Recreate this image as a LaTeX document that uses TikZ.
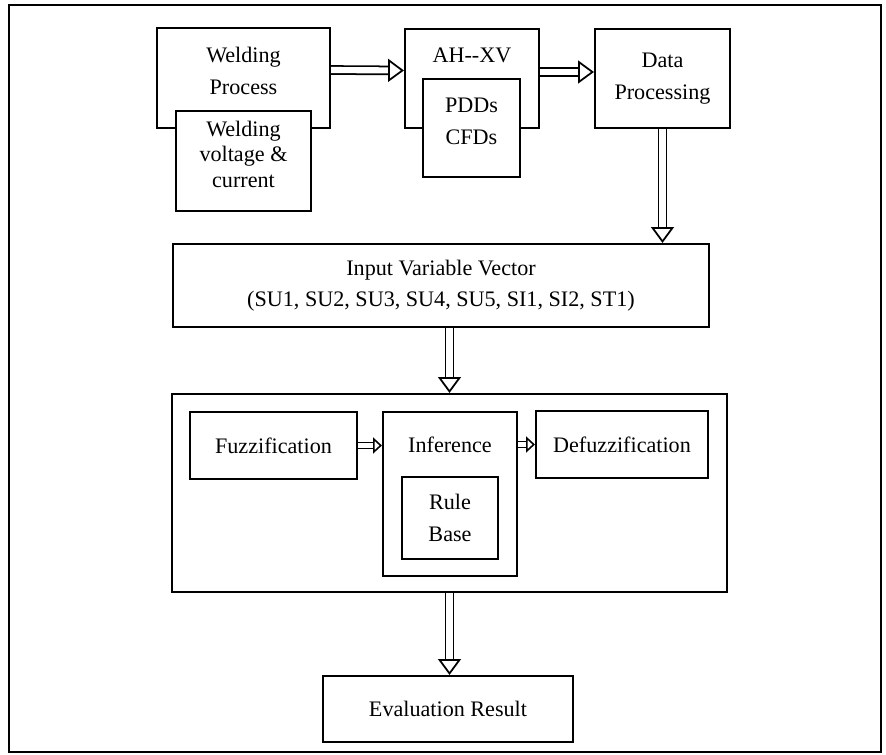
\documentclass[tikz,border=0pt]{standalone}
\usepackage{fontspec}
\setmainfont{Liberation Serif}
\usetikzlibrary{positioning,calc,arrows.meta}

\begin{document}
\begin{tikzpicture}[
    box/.style={draw, line width=1.2pt, fill=white, inner sep=0pt},
    txt/.style={align=center, font=\fontsize{12.6}{18}\selectfont},
    hollow/.style={double, double distance=3.5pt, line width=1pt, -{Triangle[open, length=9pt, width=13pt]}},
    thin hollow/.style={double, double distance=2.5pt, line width=0.9pt, -{Triangle[open, length=5pt, width=9pt]}},
]
\useasboundingbox (0,0) rectangle (17.72,-15.1);
\draw[line width=1.3pt] (0.18,-0.1) rectangle (17.62,-15.04);

% Acquisition
\node[box, minimum width=3.46cm, minimum height=2cm] (wp) at (4.87,-1.56) {};
\node[txt] (wplabel) at (4.87,-1.42) {Welding\\Process};
\node[box, minimum width=2.7cm, minimum height=2cm] (wv) at (4.87,-3.22) {};
\node[txt, font=\fontsize{12.6}{14.5}\selectfont] (wvlabel) at (4.87,-3.08) {Welding\\voltage \&\\current};

\node[box, minimum width=2.68cm, minimum height=1.98cm] (ah) at (9.44,-1.57) {};
\node[txt] (ahlabel) at (9.44,-1.1) {AH-{}-XV};
\node[box, minimum width=1.94cm, minimum height=1.96cm] (pdd) at (9.43,-2.56) {};
\node[txt] (pddlabel) at (9.43,-2.43) {PDDs\\CFDs};

\node[box, txt, minimum width=2.7cm, minimum height=1.98cm] (dp) at (13.25,-1.57) {Data\\Processing};

\draw[hollow] ([yshift=1.6mm]wp.east) -- ([yshift=1.6mm]ah.west);
\draw[hollow] ([yshift=1.3mm]ah.east) -- ([yshift=1.3mm]dp.west);

% Input vector
\node[box, txt, minimum width=10.72cm, minimum height=1.66cm] (input) at (8.82,-5.71) {Input Variable Vector\\(SU1, SU2, SU3, SU4, SU5, SI1, SI2, ST1)};
\draw[hollow] (dp.south) -- (dp.south |- input.north);

% Fuzzy system
\node[box, minimum width=11.1cm, minimum height=3.96cm] (fuzzy) at (8.99,-9.86) {};
\draw[hollow] (fuzzy.north |- input.south) -- (fuzzy.north);

\node[box, txt, minimum width=3.34cm, minimum height=1.34cm] (fuzz) at (5.47,-8.91) {Fuzzification};
\node[box, minimum width=2.68cm, minimum height=3.28cm] (inf) at (9.0,-9.88) {};
\node[txt] (inflabel) at (9.0,-8.9) {Inference};
\node[box, txt, minimum width=1.92cm, minimum height=1.64cm] (rule) at (9.0,-10.36) {Rule\\Base};
\node[box, txt, minimum width=3.44cm, minimum height=1.34cm] (defuzz) at (12.44,-8.89) {Defuzzification};

\draw[thin hollow] (fuzz.east) -- (fuzz.east -| inf.west);
\draw[thin hollow] (defuzz.west -| inf.east) -- (defuzz.west);

% Output
\node[box, txt, minimum width=5cm, minimum height=1.32cm] (eval) at (8.96,-14.18) {Evaluation Result};
\draw[hollow] (fuzzy.south) -- (fuzzy.south |- eval.north);
\end{tikzpicture}
\end{document}
